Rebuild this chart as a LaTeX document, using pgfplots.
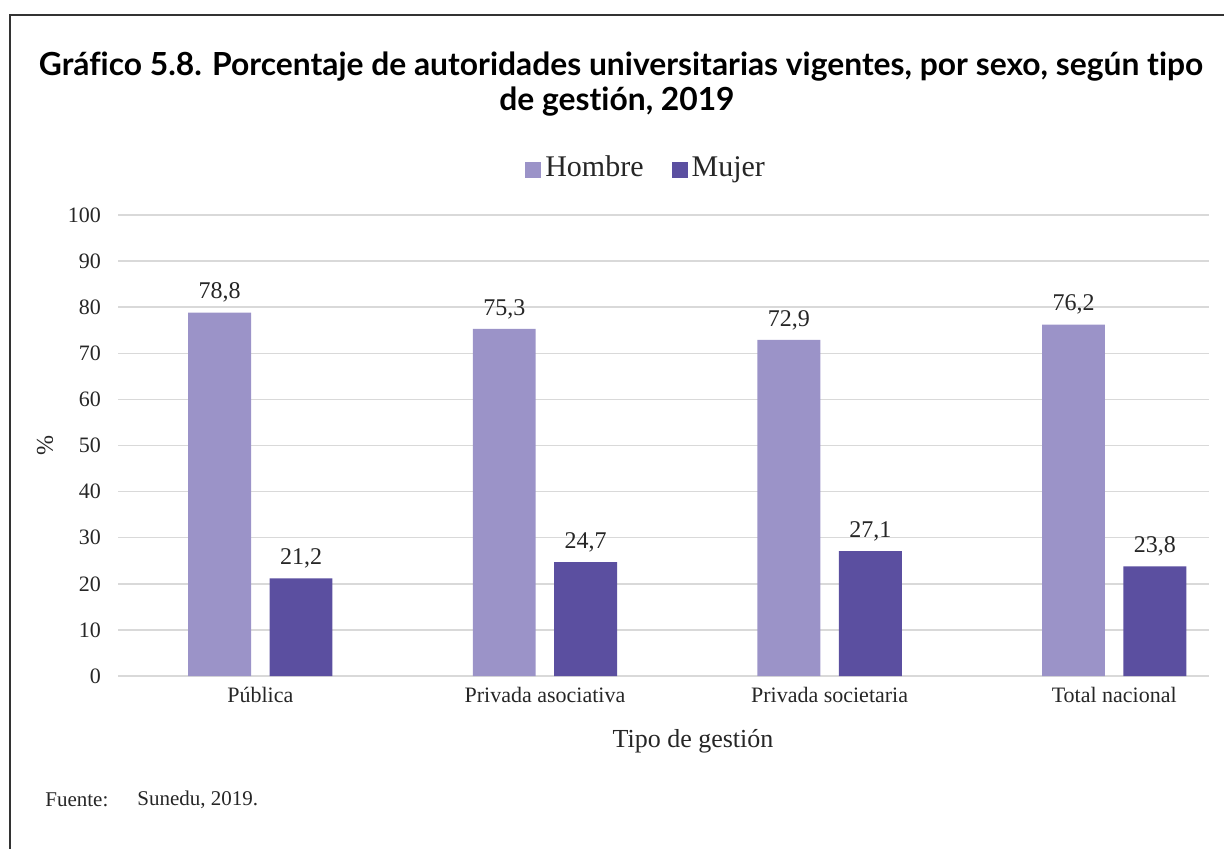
\documentclass[border=0pt]{standalone}
\usepackage{fontspec}
\setmainfont{Liberation Serif}
\newfontfamily\titlefont[Ligatures={NoCommon}]{Lato}
\usepackage{pgfplots}
\pgfplotsset{compat=1.18}
\definecolor{hombre}{HTML}{9B93C8}
\definecolor{mujer}{HTML}{5B4FA0}
\definecolor{gridc}{HTML}{D9D9D9}
\definecolor{txt}{HTML}{262626}
\begin{document}
\begin{tikzpicture}
\path[use as bounding box] (0,0) rectangle (612pt,424pt);
\draw[line width=1pt, color=black!80] (5pt,-2pt) -- (5pt,416.5pt) -- (614pt,416.5pt);
\node[anchor=base, font=\titlefont\bfseries\fontsize{15.9}{18}\selectfont] at (310.5pt,386pt) {Gráfico 5.8. Porcentaje de autoridades universitarias vigentes, por sexo, según tipo};
\node[anchor=base, font=\titlefont\bfseries\fontsize{15.9}{18}\selectfont] at (308.5pt,368.5pt) {de gestión, 2019};
\begin{axis}[
  at={(59pt,86pt)}, anchor=south west,
  scale only axis, width=545.5pt, height=230.5pt,
  xmin=-0.5, xmax=3.333, ymin=0, ymax=100,
  ytick={0,10,...,100},
  xtick={0,1,2,3},
  xticklabels={Pública, Privada asociativa, Privada societaria, Total nacional},
  axis line style={draw=none},
  major tick length=0pt,
  ymajorgrids, grid style={gridc, line width=0.75pt},
  /pgf/number format/assume math mode=true,
  tick label style={font=\fontsize{11}{13}\selectfont, color=txt},
  yticklabel style={xshift=-5pt},
  xticklabel style={yshift=-2pt},
  ybar, bar width=0.221,
  nodes near coords={\pgfmathprintnumber[fixed,fixed zerofill,precision=1,use comma]{\pgfplotspointmeta}},
  nodes near coords style={font=\fontsize{12}{14}\selectfont, color=txt, yshift=1.5pt},
  legend style={at={(0.485,1.098)}, anchor=center, draw=none, fill=none,
    font=\fontsize{15}{17}\selectfont, text=txt, legend columns=2,
    nodes={text depth=3pt, text height=10pt},
    /tikz/every even column/.append style={column sep=12pt}},
  legend image code/.code={\fill[#1] (0pt,-4pt) rectangle (8pt,4pt);},
  clip=false,
]
\addplot[fill=hombre, draw=none, bar shift=-0.143] coordinates {(0,78.8) (1,75.3) (2,72.9) (3,76.2)};
\addplot[fill=mujer, draw=none, bar shift=0.143] coordinates {(0,21.2) (1,24.7) (2,27.1) (3,23.8)};
\legend{Hombre, Mujer}
\end{axis}
\node[font=\fontsize{13}{15}\selectfont, color=txt] at (346.5pt,53.5pt) {Tipo de gestión};
\node[font=\fontsize{12}{14}\selectfont, color=txt, rotate=90] at (22.5pt,201.5pt) {\%};
\node[anchor=west, inner sep=0pt, font=\fontsize{10.5}{12}\selectfont, color=txt] at (22.5pt,24pt) {Fuente:};
\node[anchor=west, inner sep=0pt, font=\fontsize{10.5}{12}\selectfont, color=txt] at (68.5pt,24pt) {Sunedu, 2019.};
\end{tikzpicture}
\end{document}
